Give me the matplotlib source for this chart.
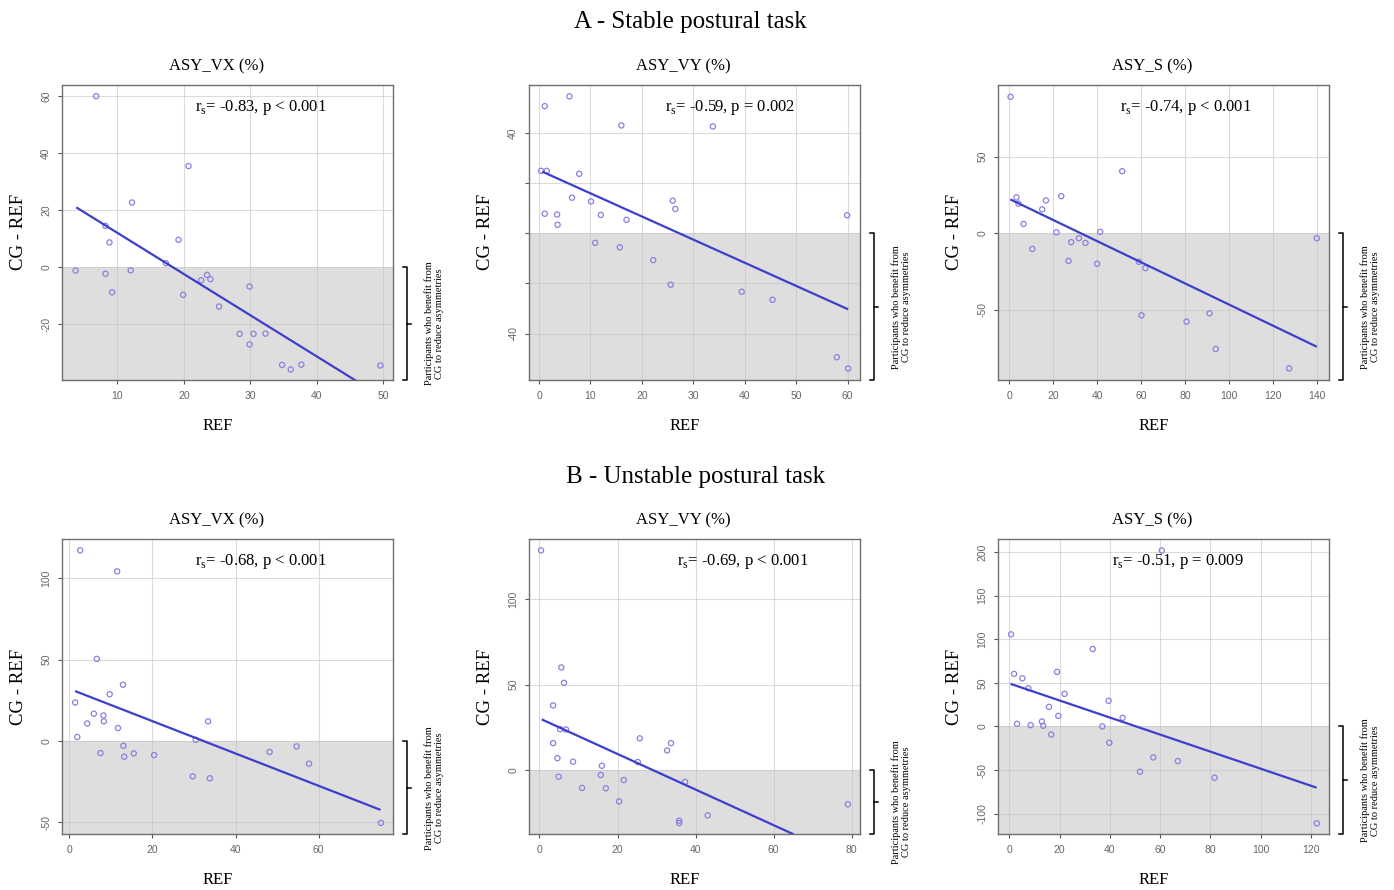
import numpy as np
import matplotlib
matplotlib.use('Agg')
import matplotlib.pyplot as plt
import matplotlib.transforms as mtransforms

plt.rcParams['font.family'] = ['Liberation Serif', 'DejaVu Serif']
plt.rcParams['mathtext.fontset'] = 'custom'
plt.rcParams['mathtext.rm'] = 'Liberation Serif'
plt.rcParams['axes.unicode_minus'] = False

# ---- data ----
# A - stable task
a_vx_ref = [6.8, 20.7, 12.2, 8.2, 8.8, 19.2, 17.3, 3.7, 8.2, 12.0, 9.2, 19.9, 22.6, 23.5, 24.0,
            25.3, 29.9, 28.4, 30.5, 32.3, 29.9, 34.8, 36.1, 37.7, 49.6]
a_vx_diff = [60, 35.5, 22.7, 14.5, 8.7, 9.6, 1.4, -1.2, -2.3, -1.1, -8.8, -9.7, -4.6, -2.7, -4.2,
             -13.8, -6.8, -23.4, -23.4, -23.3, -27.1, -34.3, -35.9, -34.2, -34.5]
a_vx_fit_x = [3.8, 45.9]
a_vx_fit_y = [21.0, -39.8]

a_vy_ref = [1.1, 5.9, 16.0, 33.8, 0.4, 1.5, 7.8, 6.4, 10.1, 26.0, 26.5, 1.1, 3.5, 3.6, 12.0,
            17.0, 59.9, 10.9, 15.7, 22.2, 25.6, 39.4, 45.4, 57.9, 60.1]
a_vy_diff = [50.7, 54.6, 43.0, 42.6, 24.9, 24.9, 23.7, 14.2, 12.7, 13.0, 9.7, 7.8, 7.5, 3.4, 7.3,
             5.4, 7.2, -3.8, -5.6, -10.7, -20.5, -23.3, -26.5, -49.4, -53.9]
a_vy_fit_x = [0.6, 60.1]
a_vy_fit_y = [24.6, -30.3]

a_s_ref = [0.6, 51.4, 3.3, 4.2, 16.7, 15.0, 23.7, 6.5, 21.5, 41.4, 10.5, 31.7, 28.2, 34.7, 27.0,
           40.0, 59.0, 62.0, 60.2, 80.7, 91.2, 94.0, 127.4, 140.0]
a_s_diff = [89.0, 40.5, 23.4, 19.3, 21.4, 15.6, 24.2, 6.1, 0.6, 0.9, -10.2, -3.2, -5.8, -6.3, -18.0,
            -19.9, -18.6, -22.7, -53.5, -57.6, -52.2, -75.5, -88.1, -3.2]
a_s_fit_x = [0.5, 140]
a_s_fit_y = [22.1, -74.0]

# B - unstable task
b_vx_ref = [2.6, 11.5, 6.6, 12.9, 9.7, 1.4, 5.9, 8.2, 8.3, 4.3, 11.7, 33.4, 1.9, 30.4, 7.5,
            13.0, 13.2, 15.5, 20.4, 29.7, 33.8, 48.2, 54.7, 57.7, 75.0]
b_vx_diff = [117.2, 104.3, 50.5, 34.6, 28.8, 23.7, 16.8, 15.7, 12.1, 10.8, 8.0, 12.1, 2.5, 0.8, -7.4,
             -2.9, -9.6, -7.6, -8.6, -21.7, -22.9, -6.7, -3.3, -13.9, -50.3]
b_vx_fit_x = [1.4, 74.9]
b_vx_fit_y = [30.7, -42.3]

b_vy_ref = [0.4, 5.6, 6.3, 3.5, 3.5, 5.3, 6.8, 4.6, 8.6, 4.9, 10.9, 16.0, 15.7, 17.0, 20.4,
            21.6, 25.7, 25.2, 32.7, 33.7, 37.3, 35.8, 35.8, 43.1, 79.0]
b_vy_diff = [128.7, 60.0, 51.0, 37.7, 15.6, 23.8, 23.6, 6.8, 4.7, -4.1, -10.7, 2.3, -3.1, -10.9, -18.6,
             -6.1, 18.4, 4.5, 11.3, 15.6, -7.2, -29.9, -31.3, -26.8, -20.3]
b_vy_fit_x = [0.6, 65.1]
b_vy_fit_y = [29.5, -37.9]

b_s_ref = [60.7, 0.7, 33.2, 1.9, 5.2, 19.0, 7.6, 22.0, 15.8, 39.5, 19.5, 45.1, 3.1, 8.5, 13.0,
           13.5, 37.0, 16.7, 39.8, 57.3, 52.0, 67.1, 81.7, 122.4]
b_s_diff = [201.9, 105.7, 88.9, 60.3, 55.3, 62.6, 43.9, 37.4, 22.5, 29.4, 12.2, 9.9, 3.1, 1.5, 5.7,
            0.8, 0.0, -9.2, -18.7, -35.5, -51.9, -39.7, -58.8, -111.1]
b_s_fit_x = [0.5, 122.3]
b_s_fit_y = [48.9, -70.2]

titles = ['ASY_VX (%)', 'ASY_VY (%)', 'ASY_S (%)']
stats_a = ['r$_\\mathregular{s}$= -0.83, p < 0.001', 'r$_\\mathregular{s}$= -0.59, p = 0.002',
           'r$_\\mathregular{s}$= -0.74, p < 0.001']
stats_b = ['r$_\\mathregular{s}$= -0.68, p < 0.001', 'r$_\\mathregular{s}$= -0.69, p < 0.001',
           'r$_\\mathregular{s}$= -0.51, p = 0.009']
bracket_text = 'Participants who benefit from\nCG to reduce asymmetries'

# ---- layout / style ----
col_left = [0.0447, 0.3797, 0.7161]
col_w = 0.2372
row_bottom = [0.573, 0.0626]
row_h = 0.3320

panels = [
    # row, col, x, y, fit x, fit y, xlim, ylim, xticks, yticks, ytick labels, stat, stat x
    (0, 0, a_vx_ref, a_vx_diff, a_vx_fit_x, a_vx_fit_y, (1.7, 51.5), (-39.6, 64.1),
     [10, 20, 30, 40, 50], [-20, 0, 20, 40, 60], None, stats_a[0], 0.40),
    (0, 1, a_vy_ref, a_vy_diff, a_vy_fit_x, a_vy_fit_y, (-1.9, 62.4), (-58.5, 59.3),
     [0, 10, 20, 30, 40, 50, 60], [-40, -20, 0, 20, 40], ['-40', '', '', '', '40'], stats_a[1], 0.41),
    (0, 2, a_s_ref, a_s_diff, a_s_fit_x, a_s_fit_y, (-5.0, 145.5), (-95.7, 97.0),
     [0, 20, 40, 60, 80, 100, 120, 140], [-50, 0, 50], None, stats_a[2], 0.368),
    (1, 0, b_vx_ref, b_vx_diff, b_vx_fit_x, b_vx_fit_y, (-1.7, 77.9), (-57.3, 124.3),
     [0, 20, 40, 60], [-50, 0, 50, 100], None, stats_b[0], 0.40),
    (1, 1, b_vy_ref, b_vy_diff, b_vy_fit_x, b_vy_fit_y, (-2.6, 82.1), (-37.9, 135.5),
     [0, 20, 40, 60, 80], [0, 50, 100], None, stats_b[1], 0.447),
    (1, 2, b_s_ref, b_s_diff, b_s_fit_x, b_s_fit_y, (-4.4, 127.2), (-123.7, 215.3),
     [0, 20, 40, 60, 80, 100, 120], [-100, -50, 0, 50, 100, 150, 200], None, stats_b[2], 0.343),
]

fig = plt.figure(figsize=(13.94, 8.90), dpi=100)

fig.text(0.495, 0.975, 'A - Stable postural task', ha='center', va='center', fontsize=18)
fig.text(0.4986, 0.464, 'B - Unstable postural task', ha='center', va='center', fontsize=18)

for (r, c, xs, ys, fx, fy, xlim, ylim, xt, yt, ytl, stat, sx) in panels:
    ax = fig.add_axes([col_left[c], row_bottom[r], col_w, row_h])
    ax.set_xlim(*xlim)
    ax.set_ylim(*ylim)

    # shaded area = negative differences
    ax.axhspan(ylim[0], 0, color='#dedede', zorder=0, lw=0)
    ax.set_axisbelow(True)
    ax.grid(True, color='#c4c4c4', alpha=0.6, lw=0.8)

    ax.scatter(xs, ys, s=14, facecolors='none', edgecolors='#8a80e0', linewidths=0.9, zorder=3)
    ax.plot(fx, fy, color='#3e3ecc', lw=1.6, zorder=4, solid_capstyle='butt')

    ax.set_xticks(xt)
    ax.set_yticks(yt)
    if ytl is not None:
        ax.set_yticklabels(ytl)
    for lab in ax.get_xticklabels() + ax.get_yticklabels():
        lab.set_family('Liberation Sans')
    ax.tick_params(axis='both', length=3, width=0.8, color='#555555', labelsize=7.5,
                   labelcolor='#666666', pad=5)
    plt.setp(ax.get_yticklabels(), rotation=90, va='center')
    for sp in ax.spines.values():
        sp.set_color('#6e6e6e')
        sp.set_linewidth(1.0)

    ax.text(0.466, 1.061, titles[c], transform=ax.transAxes, ha='center', va='center', fontsize=12)
    ax.text(0.47, -0.156, 'REF', transform=ax.transAxes, ha='center', va='center', fontsize=12)
    ax.text(-0.133, 0.5, 'CG - REF', transform=ax.transAxes, ha='center', va='center',
            rotation=90, fontsize=13.5)
    ax.text(sx, 0.924, stat, transform=ax.transAxes, ha='left', va='center', fontsize=12)

    # bracket next to the shaded part
    tr = mtransforms.blended_transform_factory(ax.transAxes, ax.transData)
    bx0, bx1, bx2 = 1.03, 1.043, 1.056
    ylo = ylim[0]
    ax.plot([bx0, bx1, bx1, bx0], [0, 0, ylo, ylo], transform=tr, color='black', lw=1.1,
            clip_on=False)
    ymid = ylo / 2.0
    ax.plot([bx1, bx2], [ymid, ymid], transform=tr, color='black', lw=1.1, clip_on=False)
    ax.text(1.125, ymid, bracket_text, transform=tr, rotation=90, ha='center', va='center',
            fontsize=7.5, multialignment='center', linespacing=1.15)

fig.savefig('out.png', dpi=100)
